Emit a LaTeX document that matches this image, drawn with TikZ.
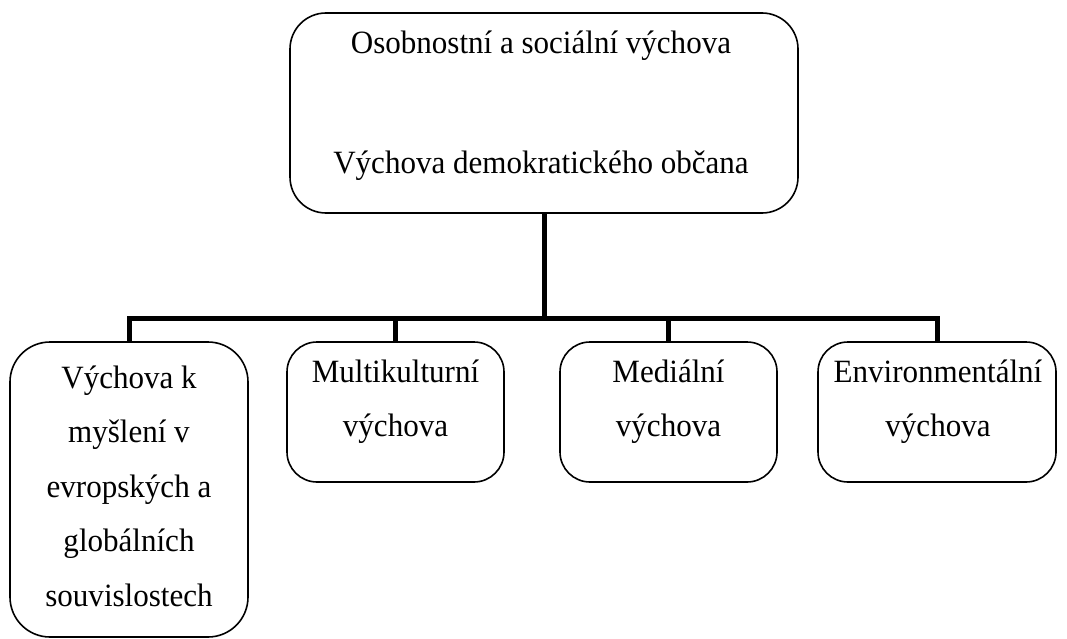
\documentclass[tikz,border=0pt]{standalone}
\usepackage{fontspec}
\setmainfont[FakeStretch=0.955]{Liberation Serif}
\begin{document}
\begin{tikzpicture}[x=1pt,y=-1pt,
  box/.style={draw=black, line width=1.6pt, rounded corners=#1, inner sep=0pt},
  box/.default=30pt,
  txt/.style={align=center, font=\fontsize{32.5}{54.5}\selectfont, inner sep=0pt},
  link/.style={draw=black, line width=5pt, line join=miter}]
\useasboundingbox (0,0) rectangle (1067,639);

% upper box
\node[box=36pt, minimum width=508pt, minimum height=200pt] (top) at (544,113) {};
\node[txt, font=\fontsize{32.5}{120}\selectfont] (toptxt) at (541,106)
  {Osobnostní a sociální výchova\\Výchova demokratického občana};

% lower boxes
\node[box=40pt, minimum width=238pt, minimum height=295pt] (b1) at (129,489.5) {};
\node[box, minimum width=217pt, minimum height=140pt] (b2) at (395.5,412) {};
\node[box, minimum width=217pt, minimum height=140pt] (b3) at (668.5,412) {};
\node[box, minimum width=238pt, minimum height=140pt] (b4) at (937,412) {};

\node[txt] (t1) at (129,486) {Výchova k\\myšlení v\\evropských a\\globálních\\souvislostech};
\node[txt] (t2) at (395.5,401.5) {Multikulturní\\výchova};
\node[txt] (t3) at (668.5,401.5) {Mediální\\výchova};
\node[txt] (t4) at (938,401.5) {Environmentální\\výchova};

% connectors
\coordinate (bar) at (544,318);
\draw[link] (top.south) -- (bar);
\draw[link] (b1.north) -- (b1.north |- bar) -- (b4.north |- bar) -- (b4.north);
\draw[link] (b2.north |- bar) -- (b2.north);
\draw[link] (b3.north |- bar) -- (b3.north);
\end{tikzpicture}
\end{document}
